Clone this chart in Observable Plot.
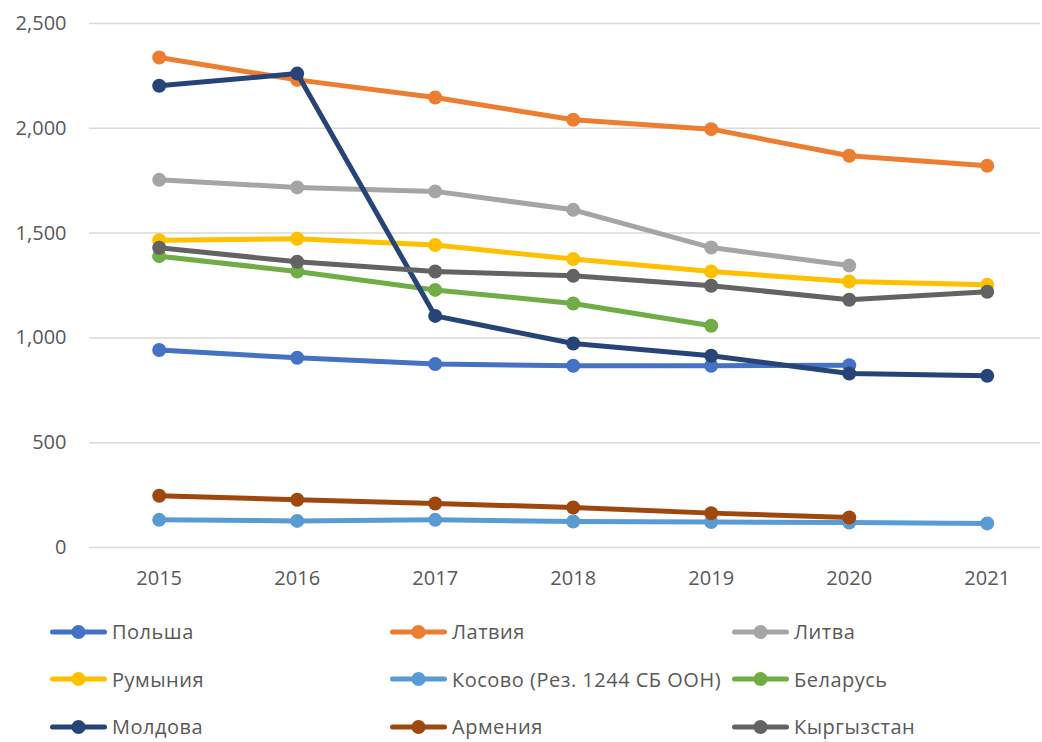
<!DOCTYPE html>
<html>
<head>
<meta charset="utf-8">
<script src="https://cdn.jsdelivr.net/npm/d3@7"></script>
<script src="https://cdn.jsdelivr.net/npm/@observablehq/plot@0.6"></script>
<style>
  html, body { margin: 0; padding: 0; background: #fff; }
  body { width: 1042px; height: 742px; overflow: hidden; font-family: "Open Sans", sans-serif; }
  #chart svg { display: block; }
  #legend {
    display: grid;
    grid-template-columns: 340px 342px 310px;
    grid-auto-rows: 47.5px;
    padding-left: 50px;
    padding-top: 8px;
  }
  .item { display: flex; align-items: center; gap: 5px; font-size: 20px; color: #595959; letter-spacing: 0.5px; white-space: nowrap; }
  .item svg { display: block; flex: none; }
</style>
</head>
<body>
<div id="chart"></div>
<div id="legend"></div>
<script>
const years = [2015, 2016, 2017, 2018, 2019, 2020, 2021];
const seriesNames = ["Польша", "Латвия", "Литва", "Румыния", "Косово (Рез. 1244 СБ ООН)", "Беларусь", "Молдова", "Армения", "Кыргызстан"];
const colors = ["#4472C4", "#ED7D31", "#A5A5A5", "#FFC000", "#5B9BD5", "#70AD47", "#264478", "#9E480E", "#636363"];
const poland     = [942, 905, 875, 867, 867, 870, null];
const latvia     = [2338, 2231, 2147, 2041, 1996, 1869, 1821];
const lithuania  = [1754, 1718, 1699, 1611, 1431, 1345, null];
const romania    = [1466, 1473, 1443, 1376, 1317, 1269, 1253];
const kosovo     = [132, 127, 132, 124, 122, 119, 115];
const belarus    = [1390, 1317, 1229, 1164, 1058, null, null];
const moldova    = [2203, 2261, 1105, 973, 915, 830, 819];
const armenia    = [247, 228, 210, 191, 164, 143, null];
const kyrgyzstan = [1430, 1363, 1317, 1296, 1249, 1182, 1220];
const yTicks = [0, 500, 1000, 1500, 2000, 2500];

const allSeries = [poland, latvia, lithuania, romania, kosovo, belarus, moldova, armenia, kyrgyzstan];
const rows = [];
allSeries.forEach((vals, i) => {
  vals.forEach((v, j) => {
    if (v != null) rows.push({series: seriesNames[i], year: years[j], value: v});
  });
});

const textColor = "#595959";
const plot = Plot.plot({
  width: 1042,
  height: 600,
  marginLeft: 89,
  marginRight: 2,
  marginTop: 23,
  marginBottom: 53,
  style: {fontFamily: "'Open Sans', sans-serif", fontSize: "20px", color: textColor, background: "#fff"},
  x: {type: "linear", domain: [2014.495, 2021.386]},
  y: {domain: [0, 2500]},
  color: {domain: seriesNames, range: colors},
  marks: [
    Plot.gridY(yTicks, {stroke: "#d9d9d9", strokeOpacity: 1, strokeWidth: 1.5}),
    Plot.axisY(yTicks, {tickSize: 0, tickPadding: 23, tickFormat: d3.format(","), fontSize: 20, fill: textColor, label: null}),
    Plot.axisX(years, {tickSize: 0, tickPadding: 23, tickFormat: d => String(d), fontSize: 20, fill: textColor, label: null}),
    ...seriesNames.map(name => [
      Plot.line(rows.filter(r => r.series === name), {x: "year", y: "value", stroke: "series", strokeWidth: 5, strokeLinejoin: "round", strokeLinecap: "round"}),
      Plot.dot(rows.filter(r => r.series === name), {x: "year", y: "value", fill: "series", r: 7})
    ]).flat()
  ]
});
document.getElementById("chart").appendChild(plot);

const legend = d3.select("#legend");
seriesNames.forEach((name, i) => {
  const item = legend.append("div").attr("class", "item");
  const sw = item.append("svg").attr("width", 57).attr("height", 16);
  sw.append("line").attr("x1", 2.5).attr("x2", 54.5).attr("y1", 8).attr("y2", 8)
    .attr("stroke", colors[i]).attr("stroke-width", 5).attr("stroke-linecap", "round");
  sw.append("circle").attr("cx", 28.5).attr("cy", 8).attr("r", 7).attr("fill", colors[i]);
  item.append("span").text(name);
});
</script>
</body>
</html>
